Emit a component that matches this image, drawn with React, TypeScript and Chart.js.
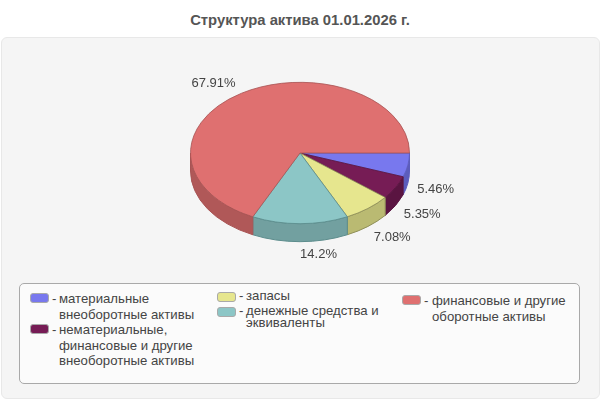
import React, { useEffect, useRef } from 'react';
import { Chart, registerables, Plugin } from 'chart.js';

Chart.register(...registerables);

const TITLE = 'Структура актива 01.01.2026 г.';
const VALUES = [5.46, 5.35, 7.08, 14.2, 67.91];
const TOP_COLORS = ['#7878EE', '#761C55', '#E6E68E', '#8CC6C6', '#DF7070'];
const SIDE_COLORS = ['#5C5CBC', '#5A1441', '#BABA72', '#72A0A0', '#B05858'];
const EDGE_COLORS = ['#5C5CBC', '#5A1441', '#8F8F58', '#5C8C8C', '#A85454'];
const LEGEND_LINES = [
    ['материальные', 'внеоборотные активы'],
    ['нематериальные,', 'финансовые и другие', 'внеоборотные активы'],
    ['запасы'],
    ['денежные средства и', 'эквиваленты'],
    ['финансовые и другие', 'оборотные активы'],
];

const SQUASH = 71 / 110;
const DEPTH = 18;

const pie3d: Plugin<'pie'> = {
    id: 'pie3d',
    beforeDatasetsDraw(chart) {
        const ctx = chart.ctx;
        const arcs = chart.getDatasetMeta(0).data as any[];
        arcs.forEach((arc, i) => {
            const start = Math.max(arc.startAngle, 0);
            const end = Math.min(arc.endAngle, Math.PI);
            if (end <= start) return;
            const rx = arc.outerRadius;
            const ry = rx * SQUASH;
            ctx.beginPath();
            ctx.ellipse(arc.x, arc.y, rx, ry, 0, start, end);
            ctx.ellipse(arc.x, arc.y + DEPTH, rx, ry, 0, end, start, true);
            ctx.closePath();
            ctx.fillStyle = SIDE_COLORS[i];
            ctx.strokeStyle = EDGE_COLORS[i];
            ctx.lineWidth = 1;
            ctx.fill();
            ctx.stroke();
        });
        const { x, y } = arcs[0];
        ctx.save();
        ctx.translate(x, y);
        ctx.scale(1, SQUASH);
        ctx.translate(-x, -y);
    },
    afterDatasetsDraw(chart) {
        const ctx = chart.ctx;
        ctx.restore();
        const arcs = chart.getDatasetMeta(0).data as any[];
        ctx.font = '13px "Liberation Sans", Arial, sans-serif';
        ctx.fillStyle = '#444444';
        ctx.textBaseline = 'middle';
        arcs.forEach((arc, i) => {
            const mid = (arc.startAngle + arc.endAngle) / 2;
            const sin = Math.sin(mid);
            const cos = Math.cos(mid);
            const left = cos < -0.01;
            const lx = arc.x + cos * (arc.outerRadius + 9.5) - (left ? 1 : 0);
            const ly = sin > 0 ? arc.y + sin * 78 + 23 : arc.y + sin * 83 + 1;
            ctx.textAlign = left ? 'right' : 'left';
            ctx.fillText(VALUES[i] + '%', lx, ly);
        });
    },
};

const legendColumns = [[0, 1], [2, 3], [4]];
const columnStyles: React.CSSProperties[] = [
    { left: 10, top: 7, lineHeight: '15.5px' },
    { left: 197, top: 6, lineHeight: '12.5px' },
    { left: 382, top: 9, lineHeight: '16px' },
];
const columnGaps = [0, 2, 0];

const App: React.FC = () => {
    const chartRef = useRef<HTMLCanvasElement>(null);

    useEffect(() => {
        let chartInstance: Chart | undefined;
        if (chartRef.current) {
            chartInstance = new Chart(chartRef.current, {
                type: 'pie',
                data: {
                    labels: LEGEND_LINES.map((l) => l.join(' ')),
                    datasets: [
                        {
                            data: VALUES,
                            backgroundColor: TOP_COLORS,
                            borderColor: EDGE_COLORS,
                            borderWidth: 1,
                        },
                    ],
                },
                options: {
                    responsive: false,
                    animation: false,
                    events: [],
                    rotation: 90,
                    layout: { padding: { left: 190, right: 190, top: 43, bottom: 137 } },
                    plugins: {
                        legend: { display: false },
                        tooltip: { enabled: false },
                    },
                },
                plugins: [pie3d],
            } as any);
        }
        return () => chartInstance?.destroy();
    }, []);

    return (
        <div style={{ position: 'relative', width: 600, height: 400, background: '#fff', fontFamily: '"Liberation Sans", Arial, sans-serif', color: '#444', overflow: 'hidden' }}>
            <style>{'body{margin:0}'}</style>
            <div style={{ position: 'absolute', left: 0, top: 12, width: 600, textAlign: 'center', fontWeight: 'bold', fontSize: 14.8, lineHeight: '17px', color: '#555' }}>
                {TITLE}
            </div>
            <div style={{ position: 'absolute', left: 1, top: 37, width: 599, height: 362, boxSizing: 'border-box', background: '#F5F5F5', border: '1px solid #E8E8E8', borderRadius: 6 }} />
            <canvas ref={chartRef} width={600} height={400} style={{ position: 'absolute', left: 0, top: 0 }} />
            <div style={{ position: 'absolute', left: 19, top: 283, width: 561, height: 101, boxSizing: 'border-box', background: '#FBFBFB', border: '1px solid #A9A9A9', borderRadius: 5, fontSize: 13.2 }}>
                {legendColumns.map((col, c) => (
                    <div key={c} style={{ position: 'absolute', ...columnStyles[c] }}>
                        {col.map((i) => (
                            <div key={i} style={{ position: 'relative', paddingLeft: c === 2 ? 30 : 29, marginBottom: columnGaps[c], whiteSpace: 'nowrap' }}>
                                <span style={{ position: 'absolute', left: 0, top: 2, width: 19, height: 10, boxSizing: 'border-box', background: TOP_COLORS[i], border: '1px solid #A9A9A9', borderRadius: 3 }} />
                                <span style={{ position: 'absolute', left: 22, top: 0 }}>-</span>
                                {LEGEND_LINES[i].map((line) => (
                                    <div key={line}>{line}</div>
                                ))}
                            </div>
                        ))}
                    </div>
                ))}
            </div>
        </div>
    );
};

export default App;
